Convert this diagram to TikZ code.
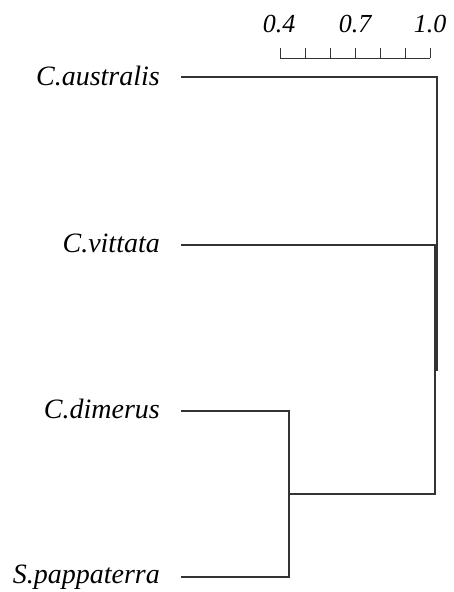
\documentclass[tikz,border=0pt]{standalone}
\usepackage{fontspec}
\setmainfont{Liberation Serif}
\usetikzlibrary{positioning, calc}

\begin{document}
\begin{tikzpicture}[
    x=1pt, y=-1pt,
    taxon/.style={anchor=base east, inner sep=0pt, font=\fontsize{28}{28}\selectfont\itshape},
    scalelabel/.style={anchor=base, inner sep=0pt, font=\fontsize{26}{26}\selectfont\itshape},
    branch/.style={line width=1.3pt, draw=black!80}
]
\useasboundingbox (0,0) rectangle (453,592);

% Taxa
\node[taxon] (aus) at (160,85) {C.australis};
\node[taxon] (vit) at (160,252) {C.vittata};
\node[taxon] (dim) at (160,418) {C.dimerus};
\node[taxon] (pap) at (160,583) {S.pappaterra};

% Branch tips and joins
\coordinate (austip) at (181,77);
\coordinate (vittip) at (181,245);
\coordinate (dimtip) at (181,411);
\coordinate (paptip) at (181,577);
\coordinate (j1) at (289,494);
\coordinate (j2) at (435,370);
\coordinate (j3) at (437,370);

% Tree
\draw[branch] (dimtip) -| (j1) |- (paptip);
\draw[branch] (vittip) -| (j2) |- (j1);
\draw[branch] (austip) -| (j3) |- (j2);

% Scale
\coordinate (s0) at (280,58);
\coordinate (s1) at (430,58);
\draw[branch, line width=1pt] (s0) -- (s1);
\foreach \i in {0,...,6}
    \draw[branch, line width=1pt] ($(s0)+(25*\i,0)$) -- ++(0,-10);
\node[scalelabel] (l04) at (279,32) {0.4};
\node[scalelabel] (l07) at (355,32) {0.7};
\node[scalelabel] (l10) at (430,32) {1.0};

\end{tikzpicture}
\end{document}
